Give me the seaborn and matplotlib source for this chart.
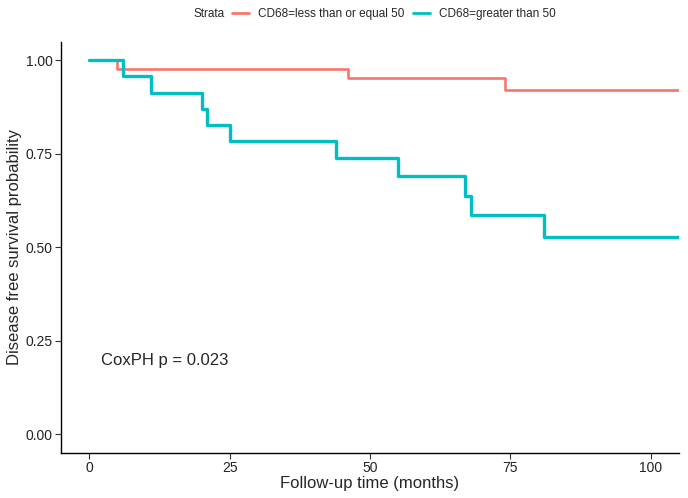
import matplotlib
matplotlib.use("Agg")
import matplotlib.pyplot as plt
import seaborn as sns
import pandas as pd

sns.set_style("white")
plt.rcParams['font.family'] = ['Liberation Sans', 'DejaVu Sans']

# Kaplan-Meier steps
low_time = [0, 5, 46, 74, 105]
low_surv = [1.0, 0.977, 0.953, 0.920, 0.920]
high_time = [0, 6, 11, 20, 21, 25, 44, 55, 67, 68, 81, 105]
high_surv = [1.0, 0.957, 0.913, 0.870, 0.826, 0.783, 0.739, 0.690, 0.638, 0.585, 0.526, 0.526]
strata = ["CD68=less than or equal 50", "CD68=greater than 50"]
colors = ["#F8766D", "#00BFC4"]
x_ticks = [0, 25, 50, 75, 100]
y_ticks = [0.00, 0.25, 0.50, 0.75, 1.00]

df = pd.concat([
    pd.DataFrame({"time": low_time, "surv": low_surv, "Strata": strata[0]}),
    pd.DataFrame({"time": high_time, "surv": high_surv, "Strata": strata[1]}),
])

fig = plt.figure(figsize=(6.88, 4.98), dpi=100)
ax = fig.add_axes([0.0891, 0.0910, 0.8974, 0.8253])
sns.lineplot(ax=ax, data=df, x="time", y="surv", hue="Strata", hue_order=strata,
             palette=colors, estimator=None, drawstyle="steps-post", linewidth=2,
             legend=False)
ax.lines[0].set_linewidth(1.9)
ax.lines[1].set_linewidth(2.4)

ax.set_xlim(-5, 105)
ax.set_ylim(-0.05, 1.05)
ax.set_xticks(x_ticks)
ax.set_xticklabels([str(t) for t in x_ticks])
ax.set_yticks(y_ticks)
ax.set_yticklabels([f"{v:.2f}" for v in y_ticks])
ax.tick_params(axis="both", direction="out", length=4, width=0.8, colors="#333333",
               labelsize=10, labelcolor="#222222", bottom=True, left=True, pad=2)
for side in ["top", "right"]:
    ax.spines[side].set_visible(False)
for side in ["left", "bottom"]:
    ax.spines[side].set_color("black")
    ax.spines[side].set_linewidth(1.0)
ax.set_xlabel("Follow-up time (months)", fontsize=12, labelpad=1)
ax.set_ylabel("Disease free survival probability", fontsize=12, labelpad=3)
ax.text(2, 0.197, "CoxPH p = 0.023", fontsize=12, ha="left", va="center")

# legend strip on top, title to the left like ggplot
handles = [plt.Line2D([], [], color=c, lw=2) for c in colors]
fig.text(0.281, 0.972, "Strata", fontsize=8.5, ha="left", va="center")
fig.legend(handles, strata, loc="center left", bbox_to_anchor=(0.337, 0.972), ncol=2,
           frameon=False, fontsize=8.5, handlelength=1.45, handletextpad=0.75,
           columnspacing=0.75, borderaxespad=0, borderpad=0)

fig.savefig("out.png", dpi=100)
